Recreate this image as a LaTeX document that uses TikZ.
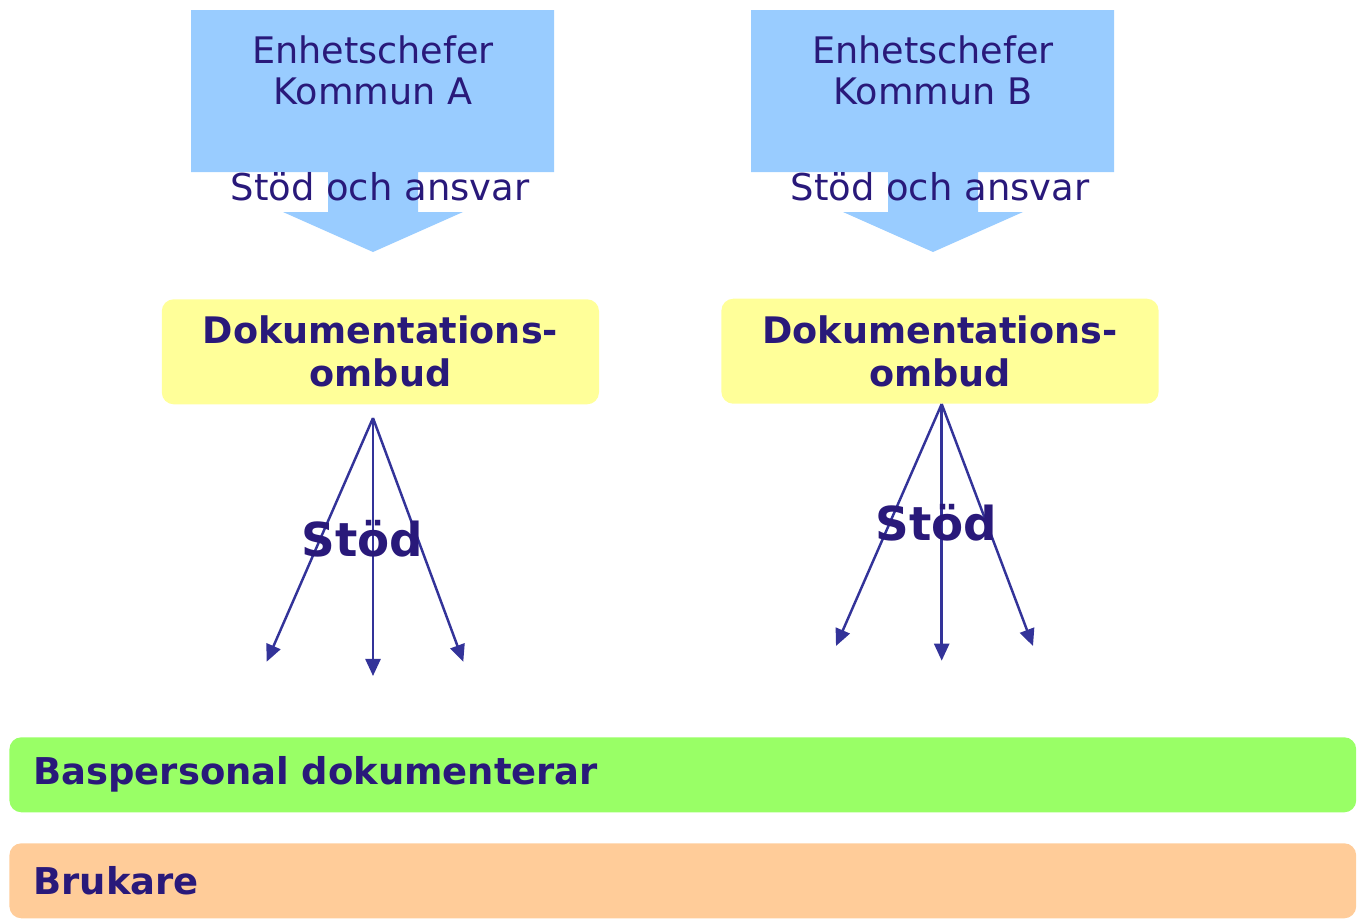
\documentclass[tikz,border=0pt]{standalone}
\usepackage{fontspec}
\setmainfont{DejaVu Sans}
\usetikzlibrary{arrows.meta}

\definecolor{ink}{RGB}{41,25,122}
\definecolor{pil}{RGB}{51,51,153}
\definecolor{ljusbla}{RGB}{153,204,255}
\definecolor{gul}{RGB}{255,255,153}
\definecolor{gron}{RGB}{153,255,102}
\definecolor{persika}{RGB}{255,204,153}

\begin{document}
\begin{tikzpicture}[x=0.01cm,y=-0.01cm,
  chef/.style={text=ink,inner sep=0pt,align=center,font=\fontsize{10.4}{11.66}\selectfont},
  ansvar/.style={text=ink,inner sep=0pt,anchor=base,font=\fontsize{10.5}{12}\selectfont},
  ombud/.style={fill=gul,rounded corners=0.12cm,minimum width=4.37cm,minimum height=1.05cm,
    inner sep=0pt,align=center,text=ink,font=\fontsize{10.4}{12.2}\selectfont\bfseries},
  stod/.style={text=ink,inner sep=0pt,anchor=base,font=\fontsize{13.3}{16}\selectfont\bfseries},
  fan/.style={pil,line width=0.7pt,-{Triangle[length=0.17cm,width=0.15cm]}},
  bar/.style={rounded corners=0.12cm,minimum height=0.75cm,inner xsep=0.24cm,inner ysep=0pt,
    text width=12.98cm,align=left,text=ink,font=\fontsize{10.5}{12}\selectfont\bfseries}]
\useasboundingbox (0,0) rectangle (1360,921);

% kommun A
\fill[ljusbla] (191,10)--(554,10)--(554,172)--(418,172)--(418,212)--(463,212)--(373,252)
  --(283,212)--(328,212)--(328,172)--(191,172)--cycle;
\node[chef] (chefA) at (373,70.5) {Enhetschefer\\Kommun A};
\node[ansvar] (ansvarA) at (380,200) {Stöd och ansvar};
\node[ombud] (ombudA) at (380.4,351.8) {Dokumentations-\\ombud};

\coordinate (topA) at (373,418);
\coordinate (vA) at (266.7,661.7);
\coordinate (mA) at (373,676);
\coordinate (hA) at (463.3,661.7);
\draw[fan] (topA)--(vA);
\draw[fan] (topA)--(mA);
\draw[fan] (topA)--(hA);
\node[stod] (stodA) at (362.4,556.7) {Stöd};

% kommun B
\fill[ljusbla] (751,10)--(1114,10)--(1114,172)--(978,172)--(978,212)--(1023,212)--(933,252)
  --(843,212)--(888,212)--(888,172)--(751,172)--cycle;
\node[chef] (chefB) at (933,70.5) {Enhetschefer\\Kommun B};
\node[ansvar] (ansvarB) at (940,200) {Stöd och ansvar};
\node[ombud] (ombudB) at (940,351.2) {Dokumentations-\\ombud};

\coordinate (topB) at (941.7,404);
\coordinate (vB) at (836,646);
\coordinate (mB) at (941.7,660.7);
\coordinate (hB) at (1033,646);
\draw[fan] (topB)--(vB);
\draw[fan] (topB)--(mB);
\draw[fan] (topB)--(hB);
\node[stod] (stodB) at (936.5,540) {Stöd};

% nivaer
\node[bar,fill=gron] (bas) at (682.8,774.8) {Baspersonal dokumenterar};
\node[bar,fill=persika] (brukare) at (682.8,880.8) {Brukare};
\end{tikzpicture}
\end{document}
